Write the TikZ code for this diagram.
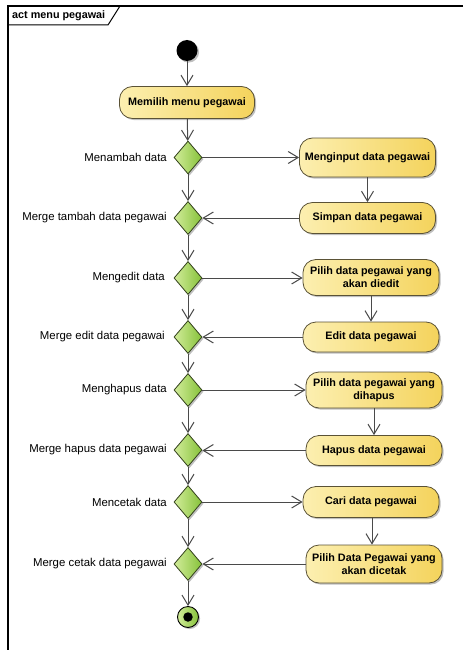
\documentclass[tikz,border=0pt]{standalone}
\usepackage{fontspec}
\setmainfont{Liberation Sans}
\usetikzlibrary{shapes.geometric,arrows.meta,shadows}

\definecolor{yelL}{HTML}{FCEFB0}
\definecolor{yelR}{HTML}{F4D35C}
\definecolor{boxline}{HTML}{5A5236}
\definecolor{grnL}{HTML}{D2EC9A}
\definecolor{grnR}{HTML}{86C23A}
\definecolor{grnline}{HTML}{34421C}
\definecolor{flowgray}{HTML}{4A4A4A}

\tikzset{
  softshadow/.style={drop shadow={shadow xshift=1.6pt,shadow yshift=-1.6pt,opacity=0.25,fill=black}},
  actbox/.style={rounded corners=13pt, draw=boxline, line width=0.8pt,
    left color=yelL, right color=yelR, softshadow,
    minimum width=136pt, inner sep=2pt, align=center,
    font=\bfseries\fontsize{10.8}{13}\selectfont},
  decbox/.style={diamond, draw=grnline, line width=0.8pt, inner sep=0pt,
    minimum width=28pt, minimum height=33pt,
    left color=grnL, right color=grnR, softshadow},
  guard/.style={anchor=east, inner sep=0pt, font=\fontsize{11.4}{13}\selectfont},
  flow/.style={draw=flowgray, line width=1pt,
    -{Straight Barb[length=10pt,width=12pt,line width=1pt]}},
}

\begin{document}
\begin{tikzpicture}[x=1pt,y=-1pt]
\useasboundingbox (0,0) rectangle (463,650);

% frame of the activity
\draw[line width=1.3pt] (463,6) -- (8,6) -- (8,650);
\draw[line width=1pt] (8,25) -- (108,25) -- (120,6);
\node[anchor=west, inner sep=0pt, font=\bfseries\fontsize{10.8}{12}\selectfont]
  (title) at (12,16) {act menu pegawai};

% start and end
\node[circle, fill=black, minimum size=21pt, inner sep=0pt, softshadow] (start) at (187,50.5) {};
\node[circle, draw=black, line width=0.9pt, left color=grnL, right color=grnR,
  minimum size=21pt, inner sep=0pt, softshadow] (stop) at (188,617) {};
\node[circle, fill=black, minimum size=9.5pt, inner sep=0pt] (stopdot) at (stop) {};

% main activity
\node[actbox, minimum width=135pt, minimum height=32pt] (menu) at (187,102.5) {Memilih menu pegawai};

% decisions and merges
\node[decbox] (d1) at (188,157.5) {};
\node[decbox] (m1) at (188,218) {};
\node[decbox] (d2) at (188,278) {};
\node[decbox] (m2) at (188,337) {};
\node[decbox] (d3) at (188,390) {};
\node[decbox] (m3) at (188,450) {};
\node[decbox] (d4) at (188,502) {};
\node[decbox] (m4) at (188,564) {};

% guard labels
\node[guard] (l1) at (167,157.5) {Menambah data};
\node[guard] (l2) at (167,218) {Merge tambah data pegawai};
\node[guard] (l3) at (165,278) {Mengedit data};
\node[guard] (l4) at (165,337) {Merge edit data pegawai};
\node[guard] (l5) at (167,390) {Menghapus data};
\node[guard] (l6) at (167,450) {Merge hapus data pegawai};
\node[guard] (l7) at (167,502) {Mencetak data};
\node[guard] (l8) at (167,564) {Merge cetak data pegawai};

% branch activities
\node[actbox, minimum height=39pt] (a1) at (367.5,157.5) {Menginput data pegawai};
\node[actbox, minimum height=31pt] (a2) at (367.5,218) {Simpan data pegawai};
\node[actbox, minimum height=36pt] (a3) at (371,277.5) {Pilih data pegawai yang\\akan diedit};
\node[actbox, minimum height=30pt] (a4) at (371,337) {Edit data pegawai};
\node[actbox, minimum height=36pt] (a5) at (374,390) {Pilih data pegawai yang\\dihapus};
\node[actbox, minimum height=30pt] (a6) at (374,450.5) {Hapus data pegawai};
\node[actbox, minimum height=31pt] (a7) at (371,502) {Cari data pegawai};
\node[actbox, minimum height=38pt] (a8) at (374,564) {Pilih Data Pegawai yang\\akan dicetak};

% main column
\draw[flow] (start) -- (menu);
\draw[flow] (menu) -- (d1);
\draw[flow] (d1) -- (m1);
\draw[flow] (m1) -- (d2);
\draw[flow] (d2) -- (m2);
\draw[flow] (m2) -- (d3);
\draw[flow] (d3) -- (m3);
\draw[flow] (m3) -- (d4);
\draw[flow] (d4) -- (m4);
\draw[flow] (m4) -- (stop);

% branches
\draw[flow] (d1.east) -- (a1.west);
\draw[flow] (a1) -- (a2);
\draw[flow] (a2.west) -- (m1.east);

\draw[flow] (d2.east) -- (d2.east -| a3.west);
\draw[flow] (a3) -- (a4);
\draw[flow] (a4.west) -- (m2.east);

\draw[flow] (d3.east) -- (a5.west);
\draw[flow] (a5) -- (a6);
\draw[flow] (a6.west) -- (a6.west -| m3.east);

\draw[flow] (d4.east) -- (a7.west);
\draw[flow] (a7.south -| 372,0) -- (a8.north -| 372,0);
\draw[flow] (a8.west) -- (m4.east);
\end{tikzpicture}
\end{document}
